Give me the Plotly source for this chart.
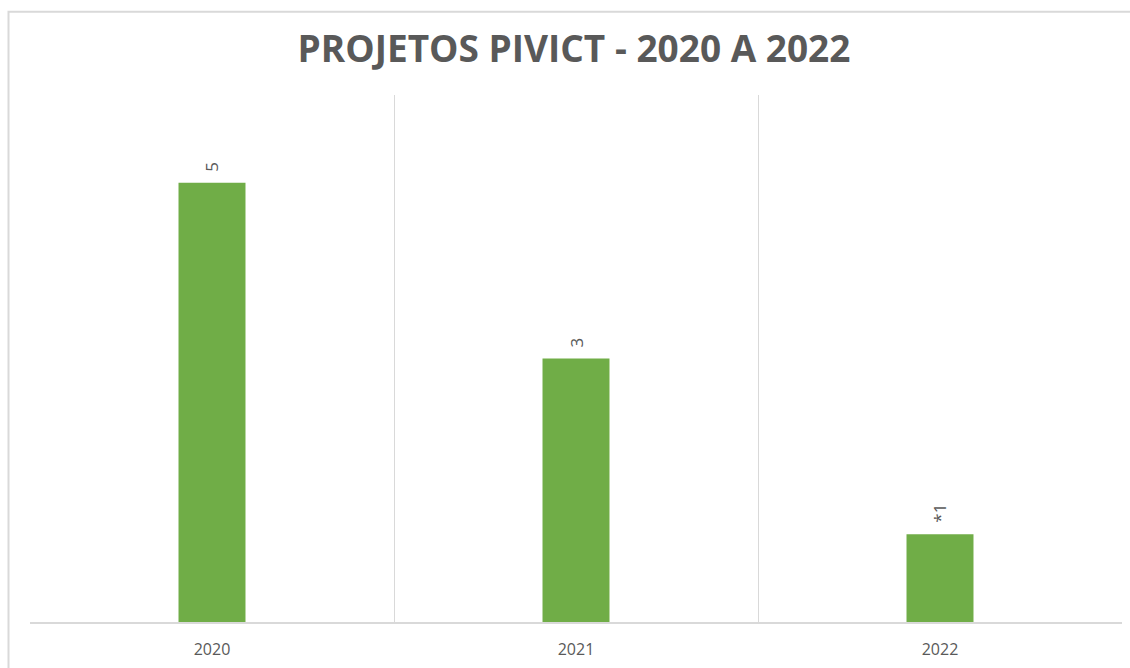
import plotly.graph_objects as go

years = ["2020", "2021", "2022"]
projects = [5, 3, 1]
labels = ["5", "3", "*1"]

xpos = list(range(len(years)))

fig = go.Figure()
fig.add_trace(go.Bar(
    x=xpos, y=projects, width=0.184,
    marker=dict(color="#70AD47", line=dict(width=0)),
    hoverinfo="skip",
))

for xi, yi, lab in zip(xpos, projects, labels):
    fig.add_annotation(x=xi, y=yi, xref="x", yref="y", text=lab, showarrow=False,
                       textangle=-90, yanchor="bottom", xanchor="center", yshift=9,
                       font=dict(family="Open Sans", size=17, color="#595959"))

W, H = 1130, 668
L, R, T, B = 30, 8, 95, 44
pw, ph = W - L - R, H - T - B

def px2paper_x(px):
    return (px - L) / pw

def px2paper_y(py):
    return (H - B - py) / ph

fig.add_shape(type="rect", xref="paper", yref="paper",
              x0=px2paper_x(8.5), x1=px2paper_x(1140),
              y0=px2paper_y(680), y1=px2paper_y(11.5),
              line=dict(color="#D9D9D9", width=2), fillcolor="rgba(0,0,0,0)", layer="below")

fig.update_layout(
    width=W, height=H,
    margin=dict(l=L, r=R, t=T, b=B),
    paper_bgcolor="white", plot_bgcolor="white",
    showlegend=False,
    title=dict(text="<b>PROJETOS PIVICT - 2020 A 2022</b>",
               font=dict(family="Open Sans", size=37, color="#595959"),
               x=574 / W, xanchor="center", y=1 - 49 / H, yanchor="middle", yref="container"),
    xaxis=dict(
        range=[-0.5, 2.5], tickvals=xpos, ticktext=years,
        showgrid=False, zeroline=False,
        showline=True, linecolor="#D9D9D9", linewidth=1.5,
        ticks="", ticklabelstandoff=12,
        tickfont=dict(family="Open Sans", size=16, color="#595959"),
        minor=dict(tickvals=[-0.5, 0.5, 1.5, 2.5], showgrid=True, gridcolor="#D9D9D9", gridwidth=1.2, ticks=""),
        fixedrange=True,
    ),
    yaxis=dict(range=[0, 6], showgrid=False, zeroline=False, showticklabels=False, showline=False, fixedrange=True),
)

fig.write_html("out.html")
